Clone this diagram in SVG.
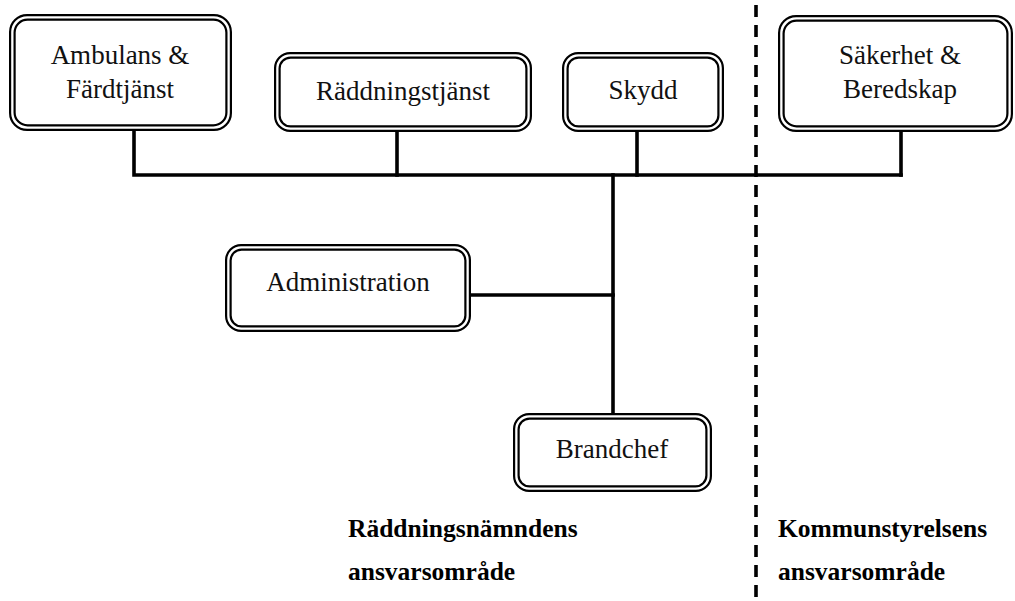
<svg xmlns="http://www.w3.org/2000/svg" width="1015" height="601" viewBox="0 0 1015 601">
  <style>
    .outer { fill: none; stroke: #000; stroke-width: 2.2; }
    .inner { fill: #fff; stroke: #000; stroke-width: 2.2; }
    .lbl { font-family: "Liberation Serif", "DejaVu Serif", serif; font-size: 27px; fill: #111; text-anchor: middle; }
    .area { font-family: "Liberation Serif", "DejaVu Serif", serif; font-size: 25.5px; font-weight: bold; fill: #000; }
    .link { stroke: #000; stroke-width: 3.6; fill: none; stroke-linecap: square; }
    .divider { stroke: #000; stroke-width: 3.6; stroke-dasharray: 12 8; fill: none; }
  </style>

  <!-- boundary between the two areas of responsibility -->
  <line class="divider" x1="756" y1="5" x2="756" y2="601"/>

  <!-- connectors -->
  <g id="connectors">
    <polyline class="link" points="134,131 134,175 901,175"/>
    <line class="link" x1="397" y1="132" x2="397" y2="175"/>
    <line class="link" x1="637" y1="132" x2="637" y2="175"/>
    <line class="link" x1="901" y1="132" x2="901" y2="175"/>
    <line class="link" x1="613" y1="175" x2="613" y2="413"/>
    <line class="link" x1="471" y1="295" x2="613" y2="295"/>
  </g>

  <!-- nodes: double-line rounded boxes -->
  <g id="ambulans">
    <rect class="outer" x="10.1" y="15.1" width="220.8" height="114.8" rx="17"/>
    <rect class="inner" x="14.6" y="19.6" width="211.8" height="105.8" rx="13"/>
    <text class="lbl" x="120" y="64">Ambulans &amp;</text>
    <text class="lbl" x="120" y="98">Färdtjänst</text>
  </g>

  <g id="raddningstjanst">
    <rect class="outer" x="275.1" y="53.1" width="255.8" height="77.8" rx="15"/>
    <rect class="inner" x="279.6" y="57.6" width="246.8" height="68.8" rx="11"/>
    <text class="lbl" x="403" y="100">Räddningstjänst</text>
  </g>

  <g id="skydd">
    <rect class="outer" x="563.1" y="53.1" width="159.8" height="77.8" rx="15"/>
    <rect class="inner" x="567.6" y="57.6" width="150.8" height="68.8" rx="11"/>
    <text class="lbl" x="643" y="99">Skydd</text>
  </g>

  <g id="sakerhet">
    <rect class="outer" x="779.1" y="16.1" width="232.8" height="114.8" rx="17"/>
    <rect class="inner" x="783.6" y="20.6" width="223.8" height="105.8" rx="13"/>
    <text class="lbl" x="900" y="64">Säkerhet &amp;</text>
    <text class="lbl" x="900" y="98">Beredskap</text>
  </g>

  <g id="administration">
    <rect class="outer" x="226.1" y="245.1" width="243.8" height="85.8" rx="15"/>
    <rect class="inner" x="230.6" y="249.6" width="234.8" height="76.8" rx="11"/>
    <text class="lbl" x="348" y="291">Administration</text>
  </g>

  <g id="brandchef">
    <rect class="outer" x="514.1" y="414.1" width="196.8" height="76.8" rx="15"/>
    <rect class="inner" x="518.6" y="418.6" width="187.8" height="67.8" rx="11"/>
    <text class="lbl" x="612" y="458">Brandchef</text>
  </g>

  <!-- area captions -->
  <g id="area-raddningsnamnden">
    <text class="area" x="348" y="537">Räddningsnämndens</text>
    <text class="area" x="348" y="580">ansvarsområde</text>
  </g>
  <g id="area-kommunstyrelsen">
    <text class="area" x="778" y="537">Kommunstyrelsens</text>
    <text class="area" x="778" y="580">ansvarsområde</text>
  </g>
</svg>
